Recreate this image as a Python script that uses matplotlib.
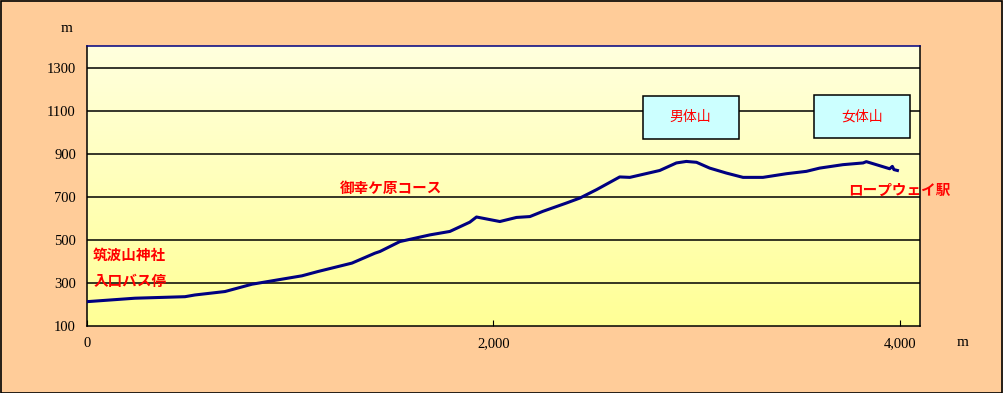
import numpy as np
import matplotlib
matplotlib.use('Agg')
from matplotlib import pyplot as plt
from matplotlib.patches import Rectangle

plt.rcParams['font.family'] = ['Noto Sans CJK JP', 'DejaVu Sans']

# Elevation profile (distance m, altitude m)
dist = [0, 236, 482, 531, 679, 812, 1058, 1137, 1304, 1417, 1442, 1540, 1688,
        1786, 1884, 1917, 2032, 2114, 2180, 2243, 2360, 2426, 2508, 2622,
        2672, 2819, 2901, 2950, 3000, 3065, 3147, 3229, 3327, 3443, 3541,
        3606, 3721, 3820, 3836, 3885, 3951, 3964, 3972, 3989]
elev = [213, 229, 236, 244, 260, 294, 333, 353, 392, 438, 446, 492, 523,
        539, 582, 606, 585, 604, 608, 632, 671, 694, 733, 792,
        790, 822, 857, 864, 860, 833, 810, 790, 790, 807, 818,
        833, 849, 857, 863, 849, 830, 841, 826, 822]

yticks = [100, 300, 500, 700, 900, 1100, 1300]
xticks = [0, 2000, 4000]
xticklabels = ['0', '2,000', '4,000']

# Labels: (text, x, y)
place_labels = [('筑波山神社', 30, 430), ('入口バス停', 30, 309),
                ('御幸ケ原コース', 1245, 742), ('ロープウェイ駅', 3744, 733)]
peak_boxes = [('男体山', 2735, 970, 3208, 1170), ('女体山', 3577, 974, 4049, 1174)]

fig = plt.figure(figsize=(10.04, 3.93), dpi=100)
fig.patch.set_facecolor('#FFCC99')
fig.patches.append(Rectangle((0.0005, 0.001), 0.998, 0.997, transform=fig.transFigure,
                             fill=False, edgecolor='black', linewidth=1.2))

ax = fig.add_axes([0.0867, 0.1705, 0.8296, 0.7125])
xmin, xmax, ymin, ymax = 0, 4100, 100, 1400

# gradient background
grad = np.linspace(0, 1, 256)[:, None]
top = np.array([255, 255, 222]) / 255
bot = np.array([255, 255, 150]) / 255
img = top[None, None, :] * (1 - grad[..., None]) + bot[None, None, :] * grad[..., None]
ax.imshow(img, extent=[xmin, xmax, ymin, ymax], aspect='auto', origin='upper', zorder=0)

for y in yticks[1:]:
    ax.axhline(y, color='black', linewidth=1.1, zorder=1)

ax.plot(dist, elev, color='#000080', linewidth=2.2, zorder=3)

ax.set_xlim(xmin, xmax)
ax.set_ylim(ymin, ymax)
ax.set_yticks(yticks)
ax.set_xticks(xticks)
ax.set_xticklabels(xticklabels)
ax.tick_params(axis='y', length=0, pad=8, labelsize=10.5)
ax.tick_params(axis='x', direction='in', length=4, pad=8, labelsize=10.5)
for lbl in ax.get_xticklabels() + ax.get_yticklabels():
    lbl.set_family('Liberation Serif')

for side in ['left', 'right', 'bottom']:
    ax.spines[side].set_color('black')
    ax.spines[side].set_linewidth(1.1)
ax.spines['top'].set_color('#000080')
ax.spines['top'].set_linewidth(1.1)

for text, x, y in place_labels:
    ax.text(x, y, text, color='#FF0000', fontsize=10.5, fontweight='bold',
            ha='left', va='center', zorder=5, clip_on=False)

for text, x0, y0, x1, y1 in peak_boxes:
    ax.add_patch(Rectangle((x0, y0), x1 - x0, y1 - y0, facecolor='#CCFFFF',
                           edgecolor='black', linewidth=1.1, zorder=4, clip_on=False))
    ax.text((x0 + x1) / 2, (y0 + y1) / 2, text, color='#FF0000', fontsize=10,
            ha='center', va='center', zorder=5)

fig.text(67 / 1004, 1 - 28 / 393, 'm', family='Liberation Serif', fontsize=11,
         ha='center', va='center')
fig.text(963 / 1004, 1 - 343 / 393, 'm', family='Liberation Serif', fontsize=11,
         ha='center', va='center')

fig.savefig('out.png', dpi=100, facecolor=fig.get_facecolor())
